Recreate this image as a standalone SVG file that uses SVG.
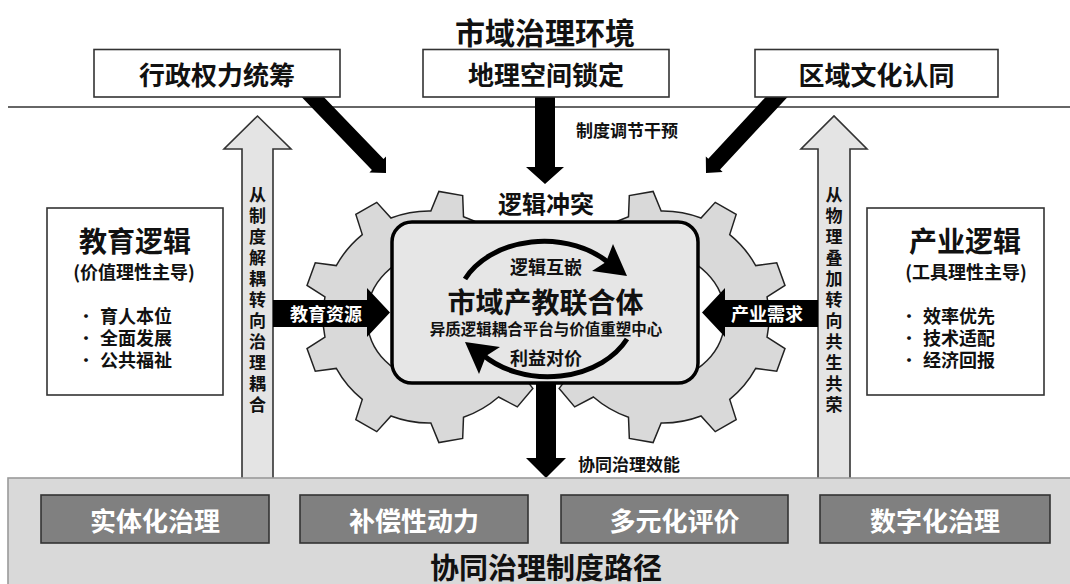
<svg xmlns="http://www.w3.org/2000/svg" width="1070" height="584" viewBox="0 0 1070 584">
<style>
text{font-family:"Noto Sans CJK SC","Noto Sans",sans-serif;font-weight:700;fill:#111;dominant-baseline:central}
.c{text-anchor:middle}
.s{text-anchor:start}
.w{fill:#fff}
.v{writing-mode:vertical-rl;text-orientation:upright;letter-spacing:4px;font-size:17px}
.box{fill:#fff;stroke:#333;stroke-width:1.6}
.gbox{fill:#808080;stroke:#333;stroke-width:1.6}
.gear{fill:#d9d9d9;stroke:#222;stroke-width:1.5;fill-rule:evenodd}
.blk{fill:#000}
.garrow{fill:#e4e4e4;stroke:#333;stroke-width:1.6}
</style>
<defs>
<path id="gearShape" class="gear" d="M104.70,-16.58 L125.42,-12.08 L125.42,12.08 L104.70,16.58 A106,106 0 0 1 90.86,54.59 L103.84,71.37 L88.31,89.87 L69.54,80.00 A106,106 0 0 1 34.51,100.23 L33.67,121.42 L9.89,125.61 L1.85,105.98 A106,106 0 0 1 -37.99,98.96 L-52.25,114.65 L-73.17,102.58 L-66.71,82.38 A106,106 0 0 1 -92.71,51.39 L-113.73,54.24 L-121.99,31.55 L-104.05,20.23 A106,106 0 0 1 -104.05,-20.23 L-121.99,-31.55 L-113.73,-54.24 L-92.71,-51.39 A106,106 0 0 1 -66.71,-82.38 L-73.17,-102.58 L-52.25,-114.65 L-37.99,-98.96 A106,106 0 0 1 1.85,-105.98 L9.89,-125.61 L33.67,-121.42 L34.51,-100.23 A106,106 0 0 1 69.54,-80.00 L88.31,-89.87 L103.84,-71.37 L90.86,-54.59 A106,106 0 0 1 104.70,-16.58 Z M62,0 A62,62 0 1 0 -62,0 A62,62 0 1 0 62,0 Z"/>
<g id="cycleArrow">
<path d="M465,279 A88,67 0 0 1 609,263" fill="none" stroke="#000" stroke-width="5"/>
<polygon points="627,276 613,244 606,262 592,271" fill="#000"/>
</g>
</defs>

<!-- environment layer -->
<text class="c" x="545" y="31" style="font-size:30px">市域治理环境</text>
<line x1="8" y1="107" x2="1070" y2="107" stroke="#333" stroke-width="1.6"/>

<!-- gray vertical arrows -->
<g id="arrow-left-up">
<polygon class="garrow" points="242,479 242,149 224,149 257.5,116 291,149 273,149 273,479"/>
<text class="v" x="257.5" y="186">从制度解耦转向治理耦合</text>
</g>
<g id="arrow-right-up">
<polygon class="garrow" points="818,479 818,149 801,149 834,116 867,149 850,149 850,479"/>
<text class="v" x="834" y="186">从物理叠加转向共生共荣</text>
</g>

<!-- gears -->
<g id="gear-left"><use href="#gearShape" transform="translate(429,317)"/></g>
<g id="gear-right"><use href="#gearShape" transform="translate(663,317) scale(-1,1)"/></g>

<!-- connectors -->
<g id="connectors">
<polygon class="blk" points="309.8,82.4 383.5,158.9 386,156.4 386,173 369.4,172.4 371.9,169.9 298.2,93.6"/>
<polygon class="blk" points="790.9,93.4 720.1,169.6 722.6,172 706,173 705.8,156.4 708.3,158.8 779.1,82.6"/>
<polygon class="blk" points="535,90 555,90 555,167 564,167 545,184 526,167 535,167"/>
<polygon class="blk" points="536,380 556,380 556,458 566,458 546,478 526,458 536,458"/>
<polygon class="blk" points="273,300 367,300 367,288 390,312.5 367,337 367,327 273,327"/>
<polygon class="blk" points="818,300 725,300 725,288 702,312.5 725,337 725,327 818,327"/>
<text class="c w" x="326" y="312.5" style="font-size:18px">教育资源</text>
<text class="c w" x="767" y="312.5" style="font-size:18px">产业需求</text>
<text class="s" x="576" y="129" style="font-size:17px">制度调节干预</text>
<text class="s" x="578" y="463" style="font-size:17px">协同治理效能</text>
</g>

<!-- top boxes -->
<g id="node-admin"><rect class="box" x="94" y="49.5" width="246" height="47.5"/><text class="c" x="217" y="73" style="font-size:26px">行政权力统筹</text></g>
<g id="node-geo"><rect class="box" x="423" y="49.5" width="246" height="47.5"/><text class="c" x="546" y="73" style="font-size:26px">地理空间锁定</text></g>
<g id="node-culture"><rect class="box" x="755" y="49.5" width="243" height="47.5"/><text class="c" x="876.5" y="73" style="font-size:26px">区域文化认同</text></g>

<!-- side logic boxes -->
<g id="node-edu">
<rect class="box" x="47" y="208" width="176" height="187" stroke-width="2"/>
<text class="c" x="135" y="239.5" style="font-size:28px">教育逻辑</text>
<text class="c" x="134" y="271" style="font-size:18px">(价值理性主导)</text>
<text class="c" x="86" y="315" style="font-size:15px">•</text><text class="s" x="100" y="315" style="font-size:18px">育人本位</text>
<text class="c" x="86" y="337" style="font-size:15px">•</text><text class="s" x="100" y="337" style="font-size:18px">全面发展</text>
<text class="c" x="86" y="359" style="font-size:15px">•</text><text class="s" x="100" y="359" style="font-size:18px">公共福祉</text>
</g>
<g id="node-ind">
<rect class="box" x="867" y="208" width="177" height="187" stroke-width="2"/>
<text class="c" x="965" y="239.5" style="font-size:28px">产业逻辑</text>
<text class="c" x="966" y="271" style="font-size:18px">(工具理性主导)</text>
<text class="c" x="909" y="315" style="font-size:15px">•</text><text class="s" x="923" y="315" style="font-size:18px">效率优先</text>
<text class="c" x="909" y="337" style="font-size:15px">•</text><text class="s" x="923" y="337" style="font-size:18px">技术适配</text>
<text class="c" x="909" y="359" style="font-size:15px">•</text><text class="s" x="923" y="359" style="font-size:18px">经济回报</text>
</g>

<!-- center -->
<g id="node-conflict"><text class="c" x="546" y="202" style="font-size:24px">逻辑冲突</text></g>
<g id="node-center">
<rect x="392" y="222" width="306" height="161" rx="20" fill="#e6e6e6" stroke="#000" stroke-width="3.5"/>
<use href="#cycleArrow"/>
<use href="#cycleArrow" transform="rotate(180 546 309)"/>
<text class="c" x="546" y="265.5" style="font-size:18px">逻辑互嵌</text>
<text class="c" x="545.5" y="300.5" style="font-size:28px">市域产教联合体</text>
<text class="c" x="546" y="327.5" style="font-size:15.5px">异质逻辑耦合平台与价值重塑中心</text>
<text class="c" x="546" y="356.5" style="font-size:18px">利益对价</text>
</g>

<!-- bottom band -->
<g id="node-paths">
<rect x="8" y="478" width="1064" height="110" fill="#d9d9d9" stroke="#9a9a9a" stroke-width="1.6"/>
<text class="c" x="546" y="566" style="font-size:29px">协同治理制度路径</text>
</g>
<g id="node-p1"><rect class="gbox" x="41" y="495" width="228" height="48"/><text class="c w" x="155" y="519" style="font-size:26px">实体化治理</text></g>
<g id="node-p2"><rect class="gbox" x="300" y="495" width="228" height="48"/><text class="c w" x="414" y="519" style="font-size:26px">补偿性动力</text></g>
<g id="node-p3"><rect class="gbox" x="561" y="495" width="227" height="48"/><text class="c w" x="674.5" y="519" style="font-size:26px">多元化评价</text></g>
<g id="node-p4"><rect class="gbox" x="820" y="495" width="230" height="48"/><text class="c w" x="935" y="519" style="font-size:26px">数字化治理</text></g>
</svg>
